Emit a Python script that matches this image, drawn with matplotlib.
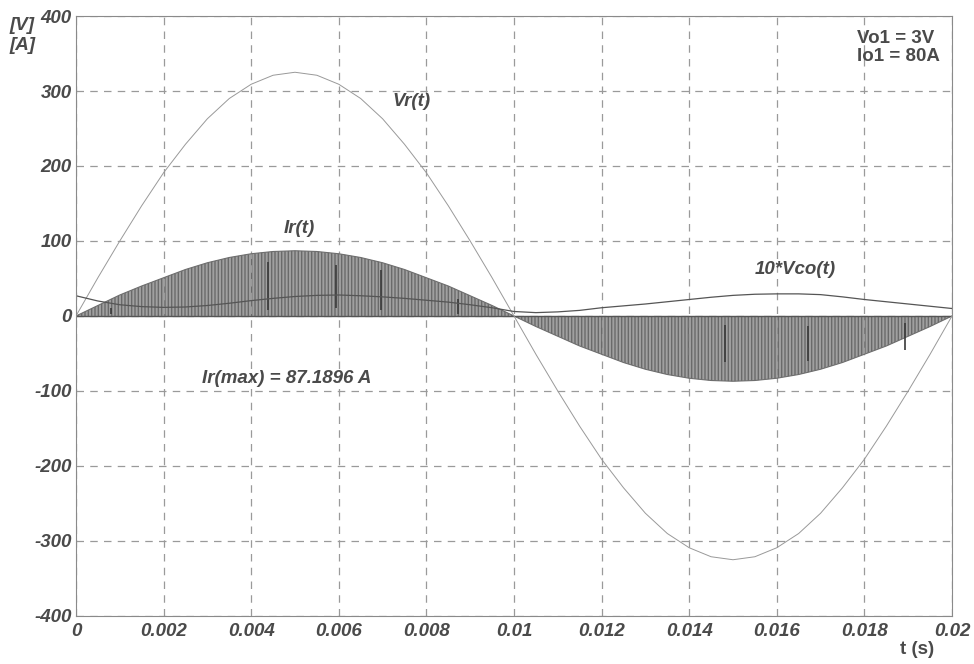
#Import Packages that are needed
import numpy as np
from matplotlib import pyplot as plt

# time samples (s) every 0.5 ms
t = [0.0, 0.0005, 0.001, 0.0015, 0.002, 0.0025, 0.003, 0.0035, 0.004, 0.0045,
     0.005, 0.0055, 0.006, 0.0065, 0.007, 0.0075, 0.008, 0.0085, 0.009, 0.0095,
     0.01, 0.0105, 0.011, 0.0115, 0.012, 0.0125, 0.013, 0.0135, 0.014, 0.0145,
     0.015, 0.0155, 0.016, 0.0165, 0.017, 0.0175, 0.018, 0.0185, 0.019, 0.0195, 0.02]

# Vr(t) [V]
vr = [0, 51, 100, 147, 191, 229, 263, 290, 309, 321,
      325, 321, 309, 290, 263, 229, 191, 147, 100, 51,
      0, -51, -100, -147, -191, -229, -263, -290, -309, -321,
      -325, -321, -309, -290, -263, -229, -191, -147, -100, -51, 0]

# envelope of the switched current Ir(t) [A]
ir = [0, 14, 28, 40, 51, 62, 71, 78, 83, 86,
      87, 86, 83, 78, 71, 62, 51, 40, 27, 14,
      0, -14, -27, -40, -51, -62, -71, -78, -83, -86,
      -87, -86, -83, -78, -71, -62, -51, -40, -27, -14, 0]

# 10*Vco(t) [V]
vco10 = [27, 20, 15, 12.5, 11.5, 12, 14, 17, 20.5, 23.5,
         26, 27.5, 28, 27, 25.5, 23.5, 21, 18.5, 15, 11,
         6, 4.5, 5.5, 7.5, 11, 13.5, 16, 19, 22, 25,
         27.5, 29, 29.5, 29.5, 28.5, 25.5, 22, 19, 16, 13, 10]

# darker spikes inside the current band: time, low, high
spike_t = [0.0008, 0.00438, 0.00594, 0.00696, 0.00872, 0.01482, 0.01671, 0.01893]
spike_lo = [2, 8, 11, 8, 2, -62, -60, -45]
spike_hi = [10, 72, 68, 61, 22, -12, -14, -10]

txt = '#4a4a4a'
plt.rcParams['font.family'] = ['Liberation Sans', 'DejaVu Sans']
plt.rcParams['axes.unicode_minus'] = False

fig = plt.figure(figsize=(9.74, 6.64), dpi=100)
ax = fig.add_axes([0.078, 0.0723, 0.8994, 0.9036])

# current band drawn as dense vertical stripes
ax.fill_between(t, 0, ir, facecolor='#a0a0a0', edgecolor='#6a6a6a',
                hatch='|||||', linewidth=0)
ax.plot(t, ir, color='#6e6e6e', lw=0.8)
ax.axhline(0, color='#555555', lw=1.0)
ax.vlines(spike_t, spike_lo, spike_hi, color='#3a3a3a', lw=1.2)

ax.plot(t, vr, color='#999999', lw=0.7)
ax.plot(t, vco10, color='#555555', lw=0.9)

ax.set_xlim(0, 0.02)
ax.set_ylim(-400, 400)
ax.set_xticks(np.arange(0, 0.0201, 0.002))
ax.set_xticklabels(['0', '0.002', '0.004', '0.006', '0.008', '0.01',
                    '0.012', '0.014', '0.016', '0.018', '0.02'])
ax.set_yticks(np.arange(-400, 401, 100))
ax.grid(True, color='#9a9a9a', linestyle=(0, (6, 5)), lw=0.9)
ax.tick_params(length=0, labelcolor=txt, labelsize=13.5)
ax.tick_params(axis='y', pad=3)
ax.tick_params(axis='x', pad=5)
for lab in ax.get_xticklabels() + ax.get_yticklabels():
    lab.set_fontweight('bold')
    lab.set_fontstyle('italic')
for sp in ax.spines.values():
    sp.set_color('#8a8a8a')

# labels on the chart
fs = dict(color=txt, fontsize=13.5, fontweight='bold', fontstyle='italic')
fig.text(0.010, 0.955, '[V]', **fs)
fig.text(0.010, 0.925, '[A]', **fs)
ax.text(0.00722, 280, 'Vr(t)', **fs)
ax.text(0.00475, 110, 'Ir(t)', **fs)
ax.text(0.0155, 56, '10*Vco(t)', **fs)
ax.text(0.00288, -90, 'Ir(max) = 87.1896 A', **fs)
ax.text(0.01783, 381, 'Vo1 = 3V\nIo1 = 80A', color=txt, fontsize=13.5,
        fontweight='bold', ha='left', va='top', linespacing=1.05)
fig.text(0.924, 0.015, 't (s)', color=txt, fontsize=13.5, fontweight='bold')

fig.savefig('out.png', dpi=100)
